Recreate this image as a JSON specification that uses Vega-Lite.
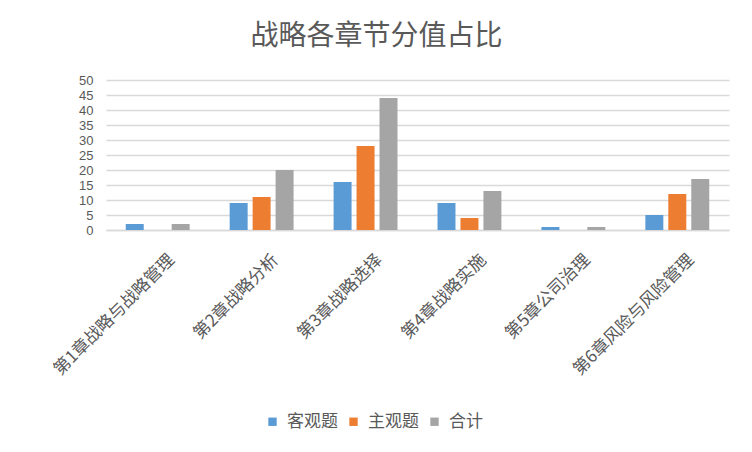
{
  "$schema": "https://vega.github.io/schema/vega-lite/v6.json",
  "width": 623,
  "height": 150,
  "autosize": {"type": "none"},
  "padding": {"left": 106, "top": 80, "right": 23, "bottom": 222},
  "background": "white",
  "title": {
    "text": "战略各章节分值占比",
    "font": "Noto Sans CJK SC",
    "fontSize": 28,
    "fontWeight": "normal",
    "color": "#595959",
    "anchor": "middle",
    "offset": 23,
    "dx": -41
  },
  "data": {
    "values": [
      {"chapter": "第1章战略与战略管理", "series": "客观题", "score": 2},
      {"chapter": "第1章战略与战略管理", "series": "主观题", "score": 0},
      {"chapter": "第1章战略与战略管理", "series": "合计", "score": 2},
      {"chapter": "第2章战略分析", "series": "客观题", "score": 9},
      {"chapter": "第2章战略分析", "series": "主观题", "score": 11},
      {"chapter": "第2章战略分析", "series": "合计", "score": 20},
      {"chapter": "第3章战略选择", "series": "客观题", "score": 16},
      {"chapter": "第3章战略选择", "series": "主观题", "score": 28},
      {"chapter": "第3章战略选择", "series": "合计", "score": 44},
      {"chapter": "第4章战略实施", "series": "客观题", "score": 9},
      {"chapter": "第4章战略实施", "series": "主观题", "score": 4},
      {"chapter": "第4章战略实施", "series": "合计", "score": 13},
      {"chapter": "第5章公司治理", "series": "客观题", "score": 1},
      {"chapter": "第5章公司治理", "series": "主观题", "score": 0},
      {"chapter": "第5章公司治理", "series": "合计", "score": 1},
      {"chapter": "第6章风险与风险管理", "series": "客观题", "score": 5},
      {"chapter": "第6章风险与风险管理", "series": "主观题", "score": 12},
      {"chapter": "第6章风险与风险管理", "series": "合计", "score": 17}
    ]
  },
  "mark": {"type": "bar"},
  "encoding": {
    "x": {
      "field": "chapter",
      "type": "nominal",
      "sort": null,
      "title": null,
      "scale": {"paddingInner": 0.385, "paddingOuter": 0.19},
      "axis": {
        "labelAngle": -45,
        "labelAlign": "right",
        "labelBaseline": "middle",
        "labelFont": "Noto Sans CJK SC",
        "labelFontSize": 17,
        "labelColor": "#595959",
        "labelPadding": 27,
        "labelOffset": 14,
        "labelLimit": 300,
        "labelOverlap": false,
        "ticks": false,
        "domainColor": "#d9d9d9",
        "domainWidth": 1.3
      }
    },
    "xOffset": {
      "field": "series",
      "type": "nominal",
      "sort": ["客观题", "主观题", "合计"],
      "scale": {"paddingInner": 0.217}
    },
    "y": {
      "field": "score",
      "type": "quantitative",
      "title": null,
      "scale": {"domain": [0, 50], "nice": false},
      "axis": {
        "values": [0, 5, 10, 15, 20, 25, 30, 35, 40, 45, 50],
        "labelOverlap": false,
        "domain": false,
        "ticks": false,
        "gridColor": "#d9d9d9",
        "gridWidth": 1.3,
        "labelFont": "Liberation Sans",
        "labelFontSize": 13,
        "labelColor": "#595959",
        "labelPadding": 13
      }
    },
    "color": {
      "field": "series",
      "type": "nominal",
      "sort": ["客观题", "主观题", "合计"],
      "scale": {
        "domain": ["客观题", "主观题", "合计"],
        "range": ["#5B9BD5", "#ED7D31", "#A5A5A5"]
      },
      "legend": {
        "title": null,
        "orient": "none",
        "legendX": 158,
        "legendY": 333,
        "direction": "horizontal",
        "symbolType": "square",
        "symbolSize": 70,
        "symbolStrokeWidth": 0,
        "labelFont": "Noto Sans CJK SC",
        "labelFontSize": 17,
        "labelColor": "#595959",
        "columnPadding": 7,
        "labelOffset": 6
      }
    }
  },
  "config": {
    "view": {"stroke": null}
  }
}
